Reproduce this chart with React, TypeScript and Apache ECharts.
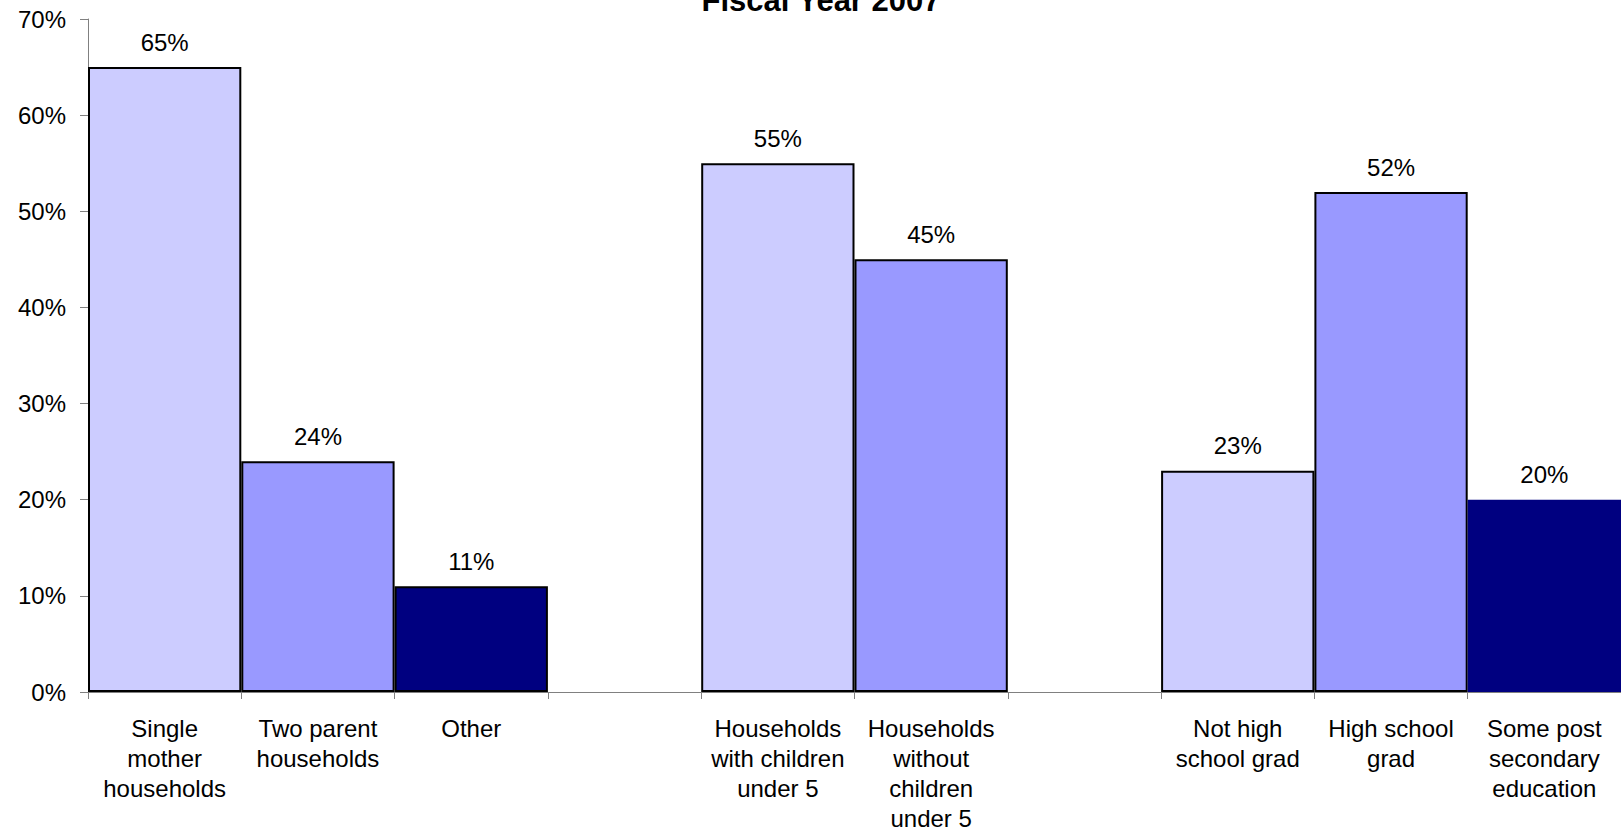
import React, { useEffect, useRef } from "react";
import * as echarts from "echarts";

const titleText = "Fiscal Year 2007";
const categories = [
  "Single\nmother\nhouseholds",
  "Two parent\nhouseholds",
  "Other",
  "",
  "Households\nwith children\nunder 5",
  "Households\nwithout\nchildren\nunder 5",
  "",
  "Not high\nschool grad",
  "High school\ngrad",
  "Some post\nsecondary\neducation",
];
const values: (number | null)[] = [65, 24, 11, null, 55, 45, null, 23, 52, 20];
const barColors = ["#CCCCFF", "#9999FF", "#000080", "#FFFFFF", "#CCCCFF", "#9999FF", "#FFFFFF", "#CCCCFF", "#9999FF", "#000080"];
const borderWidths = [2, 2, 2, 0, 2, 2, 0, 2, 2, 0];
const yTicks = { min: 0, max: 70, interval: 10 };

export default function App() {
  const ref = useRef<HTMLDivElement>(null);
  useEffect(() => {
    document.body.style.margin = "0";
    const chart = echarts.init(ref.current!, undefined, { renderer: "svg" });
    const font = "'Liberation Sans', Arial, sans-serif";
    chart.setOption({
      animation: false,
      backgroundColor: "#ffffff",
      title: {
        text: titleText,
        left: 816,
        textAlign: "center",
        top: -20,
        textStyle: { fontFamily: font, fontSize: 31, fontWeight: "bold", color: "#000" },
      },
      grid: { left: 88, top: 19, width: 1538, height: 679, containLabel: false },
      xAxis: {
        type: "category",
        data: categories,
        boundaryGap: true,
        axisLine: { show: true, lineStyle: { color: "#808080", width: 1 } },
        axisTick: { show: true, interval: 0, length: 7, lineStyle: { color: "#808080" } },
        axisLabel: {
          interval: 0,
          margin: 21,
          fontFamily: font,
          fontSize: 24,
          lineHeight: 30,
          color: "#000",
          align: "center",
        },
        splitLine: { show: false },
      },
      yAxis: {
        type: "value",
        min: yTicks.min,
        max: yTicks.max,
        interval: yTicks.interval,
        axisLine: { show: true, lineStyle: { color: "#808080", width: 1 } },
        axisTick: { show: true, length: 8, lineStyle: { color: "#808080" } },
        axisLabel: {
          formatter: "{value}%",
          margin: 22,
          fontFamily: font,
          fontSize: 24,
          color: "#000",
        },
        splitLine: { show: false },
      },
      series: [
        {
          type: "bar",
          barWidth: "100%",
          barCategoryGap: "0%",
          data: values.map((v, i) => ({
            value: v,
            itemStyle: {
              color: barColors[i],
              borderColor: "#000",
              borderWidth: borderWidths[i],
            },
          })),
          label: {
            show: true,
            position: "top",
            distance: 13,
            formatter: (p: any) => (p.value == null ? "" : p.value + "%"),
            fontFamily: font,
            fontSize: 24,
            color: "#000",
          },
        },
      ],
    });
    return () => chart.dispose();
  }, []);
  return <div ref={ref} style={{ width: 1621, height: 833, overflow: "hidden" }} />;
}
